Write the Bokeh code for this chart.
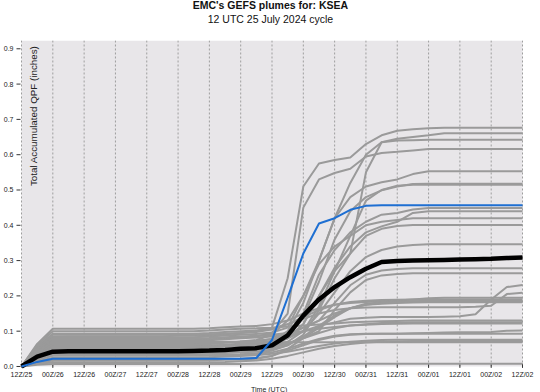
import math
from bokeh.plotting import figure
from bokeh.models import Range1d, Label, BoxAnnotation
from bokeh.core.properties import value
from bokeh.embed import file_html
from bokeh.resources import INLINE

# forecast hour from 12 UTC 25 July 2024
hours = [0, 6, 12, 18, 24, 30, 36, 42, 48, 54, 60, 66, 72, 78, 84, 90, 96,
         102, 108, 114, 120, 126, 132, 138, 144, 150, 156, 162, 168, 174, 180, 186, 192]

tick_hours = [0, 12, 24, 36, 48, 60, 72, 84, 96, 108, 120, 132, 144, 156, 168, 180, 192]
tick_labels = ["12Z/25", "00Z/26", "12Z/26", "00Z/27", "12Z/27", "00Z/28", "12Z/28", "00Z/29",
               "12Z/29", "00Z/30", "12Z/30", "00Z/31", "12Z/31", "00Z/01", "12Z/01", "00Z/02", "12Z/02"]
y_ticks = [0.0, 0.1, 0.2, 0.3, 0.4, 0.5, 0.6, 0.7, 0.8, 0.9]
y_tick_labels = ["0.0", "0.1", "0.2", "0.3", "0.4", "0.5", "0.6", "0.7", "0.8", "0.9"]

# ensemble members (inches)
m01 = [0, .050, .085, .086, .086, .086, .086, .086, .086, .086, .087, .087, .088, .091, .095,
       .100, .110, .250, .510, .575, .585, .592, .630, .655, .668, .672, .675, .676, .676, .676, .676, .676, .676]
m02 = [0, .040, .069, .069, .069, .069, .069, .069, .069, .069, .069, .069, .070, .070, .071,
       .075, .090, .130, .200, .300, .420, .520, .600, .635, .645, .650, .655, .661, .661, .661, .661, .661, .661]
m03 = [0, .035, .060, .060, .060, .060, .060, .060, .060, .060, .060, .060, .060, .061, .062,
       .064, .070, .080, .120, .200, .270, .320, .550, .635, .640, .641, .642, .642, .642, .642, .642, .642, .642]
m04 = [0, .045, .076, .076, .076, .076, .076, .076, .076, .076, .076, .076, .077, .079, .082,
       .085, .095, .150, .450, .530, .548, .560, .595, .605, .608, .612, .616, .616, .616, .616, .616, .616, .616]
m05 = [0, .033, .055, .055, .055, .055, .055, .055, .055, .055, .055, .055, .057, .061, .065,
       .067, .072, .100, .180, .300, .420, .480, .510, .522, .530, .545, .553, .553, .553, .553, .553, .553, .553]
m06 = [0, .030, .050, .050, .050, .050, .050, .050, .050, .050, .050, .050, .052, .056, .060,
       .063, .070, .090, .140, .240, .360, .440, .480, .499, .510, .517, .518, .518, .518, .518, .518, .518, .518]
m07 = [0, .027, .045, .045, .045, .045, .045, .045, .045, .045, .045, .045, .046, .048, .050,
       .052, .058, .070, .100, .170, .270, .370, .470, .500, .512, .515, .515, .515, .515, .515, .515, .515, .515]
m08 = [0, .039, .065, .065, .065, .065, .065, .065, .065, .065, .065, .065, .066, .068, .070,
       .072, .078, .090, .150, .260, .330, .380, .410, .430, .435, .445, .449, .449, .449, .449, .449, .449, .449]
m09 = [0, .024, .040, .040, .040, .040, .040, .040, .040, .040, .040, .040, .041, .043, .045,
       .048, .060, .080, .120, .200, .280, .340, .380, .397, .410, .435, .440, .440, .440, .440, .440, .440, .440]
m10 = [0, .050, .083, .083, .083, .083, .083, .083, .083, .083, .083, .083, .085, .088, .090,
       .092, .096, .110, .200, .290, .340, .370, .400, .410, .415, .420, .420, .420, .420, .420, .420, .420, .420]
m11 = [0, .019, .031, .031, .031, .031, .031, .031, .031, .031, .031, .031, .032, .034, .035,
       .037, .045, .060, .090, .160, .250, .320, .370, .390, .398, .401, .401, .401, .401, .401, .401, .401, .401]
m12 = [0, .033, .055, .055, .055, .055, .055, .055, .055, .055, .055, .055, .056, .058, .060,
       .062, .068, .080, .100, .150, .210, .270, .310, .330, .340, .344, .346, .346, .346, .346, .346, .346, .346]
m13 = [0, .043, .072, .072, .072, .072, .072, .072, .072, .072, .072, .072, .074, .077, .080,
       .082, .085, .090, .110, .130, .180, .230, .260, .272, .276, .278, .278, .278, .278, .278, .278, .278, .278]
m14 = [0, .024, .040, .040, .040, .040, .040, .040, .040, .040, .040, .040, .041, .043, .045,
       .047, .052, .065, .080, .100, .160, .210, .245, .258, .262, .264, .264, .264, .264, .264, .264, .264, .264]
m15 = [0, .033, .055, .055, .055, .055, .055, .055, .055, .055, .055, .055, .056, .057, .058,
       .060, .070, .085, .100, .115, .125, .135, .138, .140, .140, .140, .140, .141, .142, .148, .190, .225, .231]
m16 = [0, .056, .093, .093, .093, .093, .093, .093, .093, .093, .093, .093, .095, .098, .100,
       .102, .108, .120, .135, .150, .160, .165, .167, .168, .168, .168, .168, .168, .168, .169, .172, .205, .209]
m17 = [0, .064, .107, .107, .107, .107, .107, .107, .107, .107, .107, .107, .108, .111, .113,
       .115, .120, .130, .150, .165, .175, .180, .183, .185, .187, .190, .193, .195, .195, .195, .195, .195, .195]
m18 = [0, .054, .090, .090, .090, .090, .090, .090, .090, .090, .090, .090, .091, .093, .095,
       .098, .105, .120, .140, .160, .175, .183, .186, .188, .189, .190, .190, .190, .190, .190, .190, .190, .190]
m19 = [0, .010, .017, .017, .017, .017, .017, .017, .017, .017, .017, .017, .018, .019, .020,
       .022, .030, .050, .080, .110, .140, .165, .178, .182, .184, .185, .186, .186, .186, .186, .186, .186, .186]
m20 = [0, .037, .062, .062, .062, .062, .062, .062, .062, .062, .062, .062, .064, .067, .070,
       .072, .078, .090, .110, .130, .150, .165, .175, .178, .180, .181, .182, .182, .182, .182, .182, .182, .182]
m21 = [0, .060, .100, .100, .100, .100, .100, .100, .100, .100, .100, .100, .102, .105, .107,
       .108, .110, .113, .116, .119, .122, .125, .127, .128, .129, .130, .130, .130, .130, .130, .130, .130, .130]
m22 = [0, .048, .080, .080, .080, .080, .080, .080, .080, .080, .080, .080, .081, .083, .085,
       .087, .090, .095, .100, .107, .112, .116, .118, .120, .121, .122, .122, .122, .122, .122, .122, .122, .122]
m23 = [0, .019, .031, .031, .031, .031, .031, .031, .031, .031, .031, .031, .031, .032, .033,
       .035, .040, .050, .065, .078, .087, .091, .093, .093, .093, .094, .095, .096, .097, .097, .098, .101, .102]
m24 = [0, .012, .020, .020, .020, .020, .020, .020, .020, .020, .020, .020, .020, .021, .022,
       .024, .030, .045, .060, .075, .085, .090, .092, .093, .093, .093, .093, .093, .093, .093, .093, .093, .093]
m25 = [0, .015, .025, .025, .025, .025, .025, .025, .025, .025, .025, .025, .026, .028, .030,
       .032, .036, .042, .050, .058, .065, .070, .073, .075, .076, .076, .076, .076, .076, .076, .076, .076, .076]
m26 = [0, .041, .069, .069, .069, .069, .069, .069, .069, .069, .069, .069, .069, .069, .069,
       .069, .069, .069, .069, .069, .069, .069, .069, .069, .069, .069, .069, .069, .069, .069, .069, .069, .069]
m27 = [0, .005, .007, .007, .007, .007, .007, .007, .007, .007, .007, .007, .007, .007, .007,
       .0075, .0075, .0075, .0075, .0075, .0075, .0075, .0075, .0075, .0075, .0075, .0075, .0075, .0075, .0075, .0075, .0075, .0075]
m28 = [0, .021, .035, .035, .035, .035, .035, .035, .035, .035, .035, .035, .036, .038, .040,
       .042, .048, .060, .085, .115, .145, .165, .175, .180, .183, .185, .185, .185, .185, .185, .185, .185, .185]
m29 = [0, .027, .045, .045, .045, .045, .045, .045, .045, .045, .045, .045, .046, .048, .050,
       .052, .056, .065, .080, .095, .108, .116, .120, .123, .124, .125, .125, .125, .125, .125, .125, .125, .125]
m30 = [0, .007, .012, .012, .012, .012, .012, .012, .012, .012, .012, .012, .012, .013, .015,
       .017, .022, .030, .040, .050, .058, .064, .068, .070, .071, .072, .072, .072, .072, .072, .072, .072, .072]

members = [m01, m02, m03, m04, m05, m06, m07, m08, m09, m10, m11, m12, m13, m14, m15,
           m16, m17, m18, m19, m20, m21, m22, m23, m24, m25, m26, m27, m28, m29, m30]

# control run (blue) and ensemble mean (black)
control = [0, .013, .022, .022, .022, .022, .022, .022, .022, .022, .022, .022, .022, .022, .022,
           .024, .075, .195, .320, .405, .420, .444, .455, .457, .457, .457, .457, .457, .457, .457, .457, .457, .457]
ens_mean = [0, .028, .042, .043, .043, .043, .043, .043, .043, .043, .043, .044, .045, .047, .050,
            .052, .060, .088, .144, .190, .225, .253, .277, .296, .299, .300, .301, .302, .303, .304, .305, .307, .309]

for s in members + [control, ens_mean]:
    assert len(s) == len(hours)

FONT = "Liberation Sans"
# the frame covers the whole canvas; the grey panel spans hours 0..192 and 0..PANEL_TOP inches
PANEL_TOP = 0.923
X_MIN, X_MAX = -8.048, 198.898
Y_MIN, Y_MAX = -0.0737, 1.0368
TICK_TOP, TICK_BOTTOM = 0.008, -0.004
TICKLABEL_Y = -0.0227
YTICK_X0, YTICK_X1 = -1.92, -0.38
YLABEL_X = -3.07

p = figure(width=540, height=392, output_backend="svg", toolbar_location=None,
           x_range=Range1d(X_MIN, X_MAX), y_range=Range1d(Y_MIN, Y_MAX),
           min_border_left=0, min_border_right=0, min_border_top=0, min_border_bottom=0)
p.background_fill_color = "white"
p.border_fill_color = "white"
p.outline_line_color = None
p.xaxis.visible = False
p.yaxis.visible = False
p.xgrid.visible = False
p.ygrid.visible = False
p.add_layout(BoxAnnotation(left=0, right=192, bottom=0, top=PANEL_TOP, fill_color="#e8e6e9",
                           fill_alpha=1.0, line_color=None, level="underlay"))

n = len(tick_hours)
k = len(y_ticks)
# dotted vertical grid lines at every time tick, only over the grey panel
p.segment(x0=tick_hours, y0=[0] * n, x1=tick_hours, y1=[PANEL_TOP] * n,
          line_color="#9e9e9e", line_dash="2 2", line_width=1)
# time axis ticks and labels
p.segment(x0=tick_hours, y0=[TICK_TOP] * n, x1=tick_hours, y1=[TICK_BOTTOM] * n,
          line_color="#333333", line_width=1)
p.text(x=tick_hours, y=[TICKLABEL_Y] * n, text=tick_labels, text_align="center",
       text_baseline="middle", text_font=value(FONT), text_font_size="7px", text_color="#222222")
# QPF axis ticks and labels
p.segment(x0=[YTICK_X0] * k, y0=y_ticks, x1=[YTICK_X1] * k, y1=y_ticks,
          line_color="#333333", line_width=1)
p.text(x=[YLABEL_X] * k, y=y_ticks, text=y_tick_labels, text_align="right",
       text_baseline="middle", text_font=value(FONT), text_font_size="7px", text_color="#222222")

for m in members:
    p.line(hours, m, line_color="#9a9a9a", line_width=2)
p.line(hours, ens_mean, line_color="black", line_width=4.5)
p.line(hours, control, line_color="#1e6fd2", line_width=2)

p.add_layout(Label(x=4.6, y=0.909, text="Total Accumulated QPF (inches)", angle=math.pi / 2,
                   text_align="right", text_baseline="middle", text_font=FONT,
                   text_font_size="9.8px", text_color="#222222"))
p.add_layout(Label(x=95.4, y=1.0246, text="EMC's GEFS plumes for: KSEA", text_align="center",
                   text_baseline="middle", text_font=FONT, text_font_size="10.5px",
                   text_font_style="bold", text_color="#111111"))
p.add_layout(Label(x=95.4, y=0.983, text="12 UTC 25 July 2024 cycle", text_align="center",
                   text_baseline="middle", text_font=FONT, text_font_size="10.5px",
                   text_color="#111111"))
p.add_layout(Label(x=94.9, y=-0.0652, text="Time (UTC)", text_align="center",
                   text_baseline="middle", text_font=FONT, text_font_size="7px",
                   text_color="#222222"))

open("out.html", "w").write(file_html(p, INLINE))
